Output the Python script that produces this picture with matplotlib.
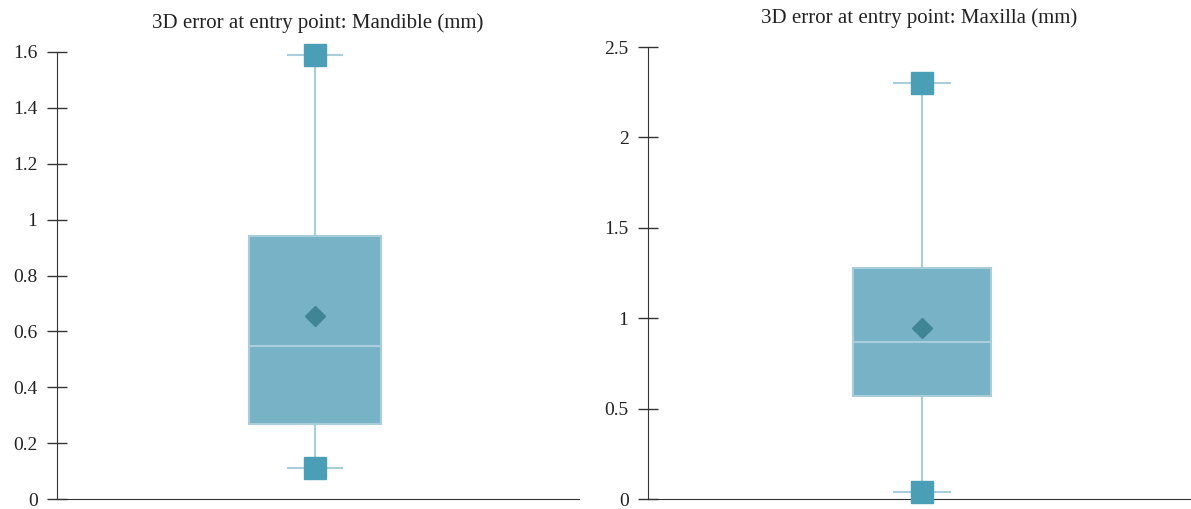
import matplotlib
matplotlib.use('Agg')
import matplotlib.pyplot as plt

# values (mm)
titles = ['3D error at entry point: Mandible (mm)', '3D error at entry point: Maxilla (mm)']
q1 = [0.267, 0.567]
median = [0.549, 0.870]
q3 = [0.941, 1.278]
mean = [0.656, 0.947]
whis_lo = [0.110, 0.040]
whis_hi = [1.590, 2.300]
ymax = [1.6, 2.5]
yticks = [[0, 0.2, 0.4, 0.6, 0.8, 1, 1.2, 1.4, 1.6], [0, 0.5, 1, 1.5, 2, 2.5]]
yticklabels = [['0', '0.2', '0.4', '0.6', '0.8', '1', '1.2', '1.4', '1.6'],
               ['0', '0.5', '1', '1.5', '2', '2.5']]

plt.rcParams['font.family'] = ['Liberation Serif', 'DejaVu Serif']

box_fill = '#78b2c6'
box_edge = '#a9cddb'
light = '#a9cddb'
sq_col = '#4a9eb5'
dia_col = '#3f8596'

fig = plt.figure(figsize=(11.91, 5.09), dpi=100)
rects = [[57/1191, 10/509, 522/1191, 447/509], [648/1191, 10/509, 542/1191, 452/509]]
xlims = [(0.506, 1.506), (0.495, 1.495)]

for i in range(2):
    ax = fig.add_axes(rects[i])
    stats = [dict(med=median[i], q1=q1[i], q3=q3[i], whislo=whis_lo[i], whishi=whis_hi[i],
                  mean=mean[i], fliers=[])]
    ax.bxp(stats, positions=[1], widths=0.254, patch_artist=True, showmeans=True,
           capwidths=0.104,
           boxprops=dict(facecolor=box_fill, edgecolor=box_edge, linewidth=1.5),
           medianprops=dict(color=light, linewidth=1.5),
           whiskerprops=dict(color=light, linewidth=1.5),
           capprops=dict(color=light, linewidth=1.5),
           meanprops=dict(marker='D', markerfacecolor=dia_col, markeredgecolor=dia_col,
                          markersize=10))
    ax.plot([1, 1], [whis_lo[i], whis_hi[i]], linestyle='none', marker='s',
            markersize=16, color=sq_col, clip_on=False, zorder=5)
    ax.set_xlim(*xlims[i])
    ax.set_ylim(0, ymax[i])
    ax.set_xticks([])
    ax.set_yticks(yticks[i])
    ax.set_yticklabels(yticklabels[i], fontsize=14, color='#222222')
    ax.tick_params(axis='y', direction='inout', length=14, width=1, color='#333333', pad=7)
    for s in ['top', 'right']:
        ax.spines[s].set_visible(False)
    ax.spines['left'].set_color('#333333')
    ax.spines['bottom'].set_color('#333333')
    ax.set_title(titles[i], fontsize=15, color='#222222', pad=17)

fig.savefig('out.png', dpi=100)
